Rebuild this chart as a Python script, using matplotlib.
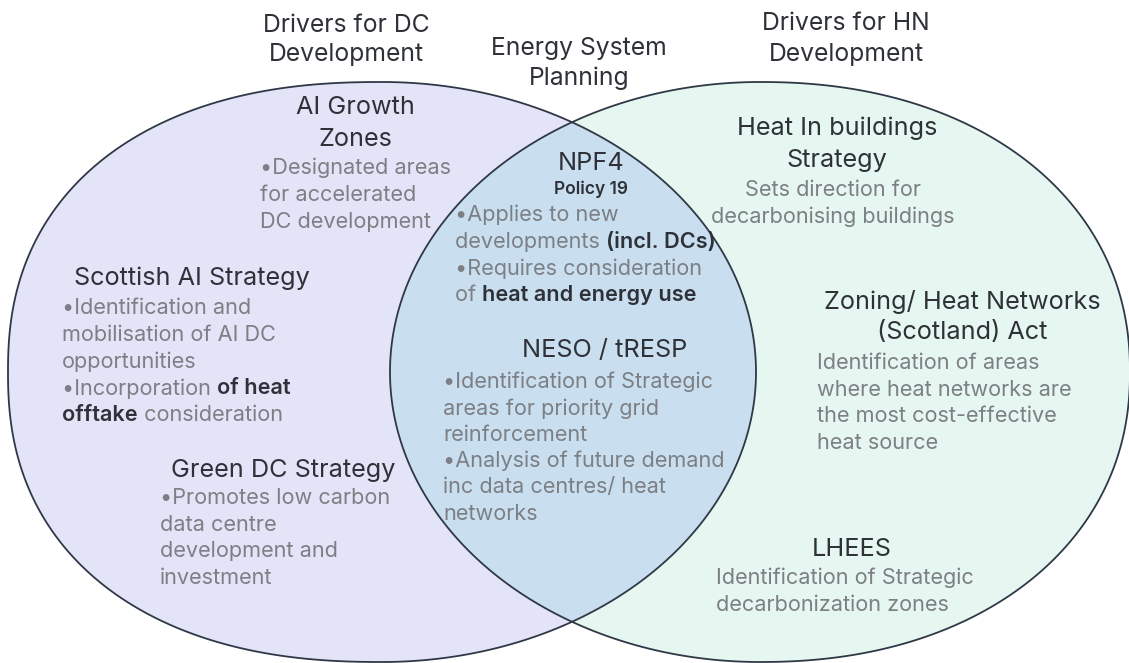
import matplotlib

matplotlib.use("Agg")
import matplotlib.pyplot as plt
import numpy as np
from matplotlib.patches import Polygon

FONT = "Inter"
DARK = "#2e3238"
GREY = "#7c7f84"
EDGE = "#2f3846"
DC_FILL = "#e3e4f8"
HN_FILL = "#e6f6f0"
BOTH_FILL = "#c9dff0"

# shape geometry in pixel coords: (cx, cy, half_width, half_height, outer_side, outer_exponent)
dc_shape = (382, 372, 374, 290, -1, 2.3)
hn_shape = (760, 372, 370, 290, 1, 2.15)

# headers above the diagram: (x, [(y, line), ...])
headers = [
    (346, [(25, "Drivers for DC"), (55, "Development")]),
    (579, [(48, "Energy System"), (78, "Planning")]),
    (846, [(24, "Drivers for HN"), (54, "Development")]),
]

# section titles, centred
titles = [
    (355, [(108, "AI Growth"), (139, "Zones")]),
    (591, [(163, "NPF4")]),
    (837, [(128, "Heat In buildings"), (160, "Strategy")]),
    (192, [(278, "Scottish AI Strategy")]),
    (605, [(350, "NESO / tRESP")]),
    (962, [(302, "Zoning/ Heat Networks"), (333, "(Scotland) Act")]),
    (283, [(470, "Green DC Strategy")]),
    (852, [(550, "LHEES")]),
]

# body blocks: (x, y_first_line, line_gap, ha, lines); each line is (text, bold) runs
bodies = [
    (260, 168, 27, "left", [
        [("•Designated areas", False)],
        [("for accelerated", False)],
        [("DC development", False)],
    ]),
    (455, 215, 26.7, "left", [
        [("•Applies to new", False)],
        [("developments ", False), ("(incl. DCs)", True)],
        [("•Requires consideration", False)],
        [("of ", False), ("heat and energy use", True)],
    ]),
    (833, 190, 27, "center", [
        [("Sets direction for", False)],
        [("decarbonising buildings", False)],
    ]),
    (62, 308, 26.8, "left", [
        [("•Identification and", False)],
        [("mobilisation of AI DC", False)],
        [("opportunities", False)],
        [("•Incorporation ", False), ("of heat", True)],
        [("offtake", True), (" consideration", False)],
    ]),
    (443, 382, 26.3, "left", [
        [("•Identification of Strategic", False)],
        [("areas for priority grid", False)],
        [("reinforcement", False)],
        [("•Analysis of future demand", False)],
        [("inc data centres/ heat", False)],
        [("networks", False)],
    ]),
    (817, 363, 26.7, "left", [
        [("Identification of areas", False)],
        [("where heat networks are", False)],
        [("the most cost-effective", False)],
        [("heat source", False)],
    ]),
    (160, 498, 26.7, "left", [
        [("•Promotes low carbon", False)],
        [("data centre", False)],
        [("development and", False)],
        [("investment", False)],
    ]),
    (716, 578, 27, "left", [
        [("Identification of Strategic", False)],
        [("decarbonization zones", False)],
    ]),
]


def blob_points(cx, cy, a, b, outer, n_outer, k=720):
    # ellipse on the inner side, slightly boxier on the outer side
    t = np.linspace(0, 2 * np.pi, k, endpoint=False)
    c, s = np.cos(t), np.sin(t)
    n = np.where(np.sign(c) == outer, n_outer, 2.0)
    x = cx + a * np.sign(c) * np.abs(c) ** (2 / n)
    y = cy + b * np.sign(s) * np.abs(s) ** (2 / n)
    return np.column_stack([x, y])


W, H = 1129, 663
fig = plt.figure(figsize=(W / 100, H / 100), dpi=100)
ax = fig.add_axes([0, 0, 1, 1])
ax.set_xlim(0, W)
ax.set_ylim(H, 0)
ax.axis("off")

dc_pts = blob_points(*dc_shape)
hn_pts = blob_points(*hn_shape)

ax.add_patch(Polygon(dc_pts, closed=True, facecolor=DC_FILL, edgecolor="none", zorder=1))
ax.add_patch(Polygon(hn_pts, closed=True, facecolor=HN_FILL, edgecolor="none", zorder=1))

# overlap: HN shape clipped to the DC shape
clip = Polygon(dc_pts, closed=True, transform=ax.transData)
both = Polygon(hn_pts, closed=True, facecolor=BOTH_FILL, edgecolor="none", zorder=2)
ax.add_patch(both)
both.set_clip_path(clip)

for pts in (dc_pts, hn_pts):
    ax.add_patch(Polygon(pts, closed=True, facecolor="none", edgecolor=EDGE, lw=1.3,
                         zorder=3))

for x, lines in headers:
    for y, t in lines:
        ax.text(x, y, t, ha="center", va="center", fontsize=17.8, color=DARK,
                family=FONT, zorder=5)

for x, lines in titles:
    for y, t in lines:
        ax.text(x, y, t, ha="center", va="center", fontsize=18.2, color=DARK,
                family=FONT, zorder=5)

ax.text(591, 189, "Policy 19", ha="center", va="center", fontsize=12.5, color=DARK,
        family=FONT, weight="semibold", zorder=5)

renderer = fig.canvas.get_renderer()


def draw_runs(x, y, runs, ha, size=15.6):
    pieces = []
    for txt, bold in runs:
        t = ax.text(0, y, txt, ha="left", va="center", fontsize=size,
                    color=DARK if bold else GREY, family=FONT,
                    weight="semibold" if bold else "normal", zorder=5)
        pieces.append(t)
    widths = [t.get_window_extent(renderer).width for t in pieces]
    start = x - sum(widths) / 2 if ha == "center" else x
    for t, w in zip(pieces, widths):
        t.set_x(start)
        start += w


for x, y0, gap, ha, lines in bodies:
    for i, runs in enumerate(lines):
        draw_runs(x, y0 + i * gap, runs, ha)

fig.savefig("out.png", dpi=100)
